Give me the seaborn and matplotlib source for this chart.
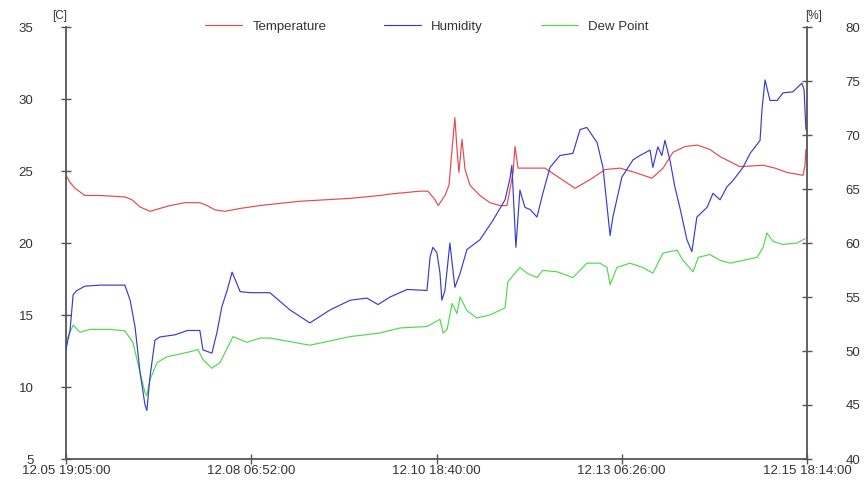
import numpy as np
import pandas as pd
import matplotlib
matplotlib.use("Agg")
import matplotlib.pyplot as plt
import seaborn as sns

# ---------------- data (hours since start) ----------------
tick_labels = ["12.05 19:05:00", "12.08 06:52:00", "12.10 18:40:00",
               "12.13 06:26:00", "12.15 18:14:00"]

temp_hours = [0, 1.3, 2.9, 6.1, 11.0, 19.0, 21.3, 23.9, 27.1, 30.3, 33.6, 38.4,
              43.2, 45.5, 48.1, 51.3, 56.2, 62.6, 75.5, 91.7, 101.3, 104.6, 114.3,
              116.8, 119.1, 120.1, 121.4, 122.3, 123.6, 124.6, 125.5, 126.2, 126.8,
              127.8, 128.8, 130.4, 133.6, 136.8, 140.1, 142.3, 144.3, 144.9, 145.9,
              149.8, 154.6, 159.4, 164.3, 169.1, 174.0, 178.8, 183.6, 189.1, 192.7,
              195.9, 199.8, 203.7, 207.8, 211.1, 217.5, 225.0, 228.8, 232.7, 237.9,
              238.5, 238.8]
temp_values = [24.7, 24.2, 23.8, 23.3, 23.3, 23.2, 23.0, 22.5, 22.2, 22.4, 22.6, 22.8,
               22.8, 22.6, 22.3, 22.2, 22.4, 22.6, 22.9, 23.1, 23.3, 23.4, 23.6,
               23.6, 23.0, 22.6, 23.0, 23.3, 24.0, 26.5, 28.7, 26.5, 24.9,
               27.2, 25.1, 24.0, 23.3, 22.8, 22.6, 22.6, 24.9, 26.7, 25.2,
               25.2, 25.2, 24.5, 23.8, 24.4, 25.1, 25.2, 24.9, 24.5, 25.2,
               26.3, 26.7, 26.8, 26.5, 26.0, 25.3, 25.4, 25.2, 24.9, 24.7,
               25.4, 26.5]

hum_hours = [0, 0.6, 1.3, 2.3, 3.5, 6.1, 11.0, 19.0, 20.7, 22.3, 23.9, 25.5, 26.1,
             27.1, 28.7, 30.3, 35.2, 39.2, 43.2, 44.2, 47.1, 48.7, 50.3, 52.0, 53.6,
             56.2, 59.4, 65.8, 72.3, 78.7, 85.2, 91.7, 97.1, 100.7, 104.6, 110.1,
             116.5, 117.5, 118.4, 119.7, 120.7, 121.3, 122.3, 123.9, 125.5, 127.2,
             129.4, 133.6, 137.8, 141.7, 143.3, 143.9, 145.2, 146.5, 148.1, 149.8,
             152.0, 153.9, 156.2, 159.4, 163.6, 165.9, 168.1, 171.4, 173.3, 175.6,
             176.5, 179.4, 183.0, 185.2, 188.5, 189.4, 191.0, 192.3, 193.3, 194.9,
             196.5, 198.1, 200.4, 202.0, 203.6, 206.9, 208.8, 211.1, 213.3, 215.3,
             218.5, 220.8, 224.0, 224.6, 225.6, 227.2, 229.5, 231.4, 234.6, 237.5,
             238.2, 238.8]
hum_values = [50.1, 51.0, 51.9, 55.2, 55.6, 56.0, 56.1, 56.1, 54.7, 52.2, 48.0, 45.0, 44.5,
              47.6, 51.0, 51.3, 51.5, 51.9, 51.9, 50.1, 49.8, 51.7, 54.1, 55.6, 57.3,
              55.5, 55.4, 55.4, 53.8, 52.6, 53.8, 54.7, 54.9, 54.3, 55.0, 55.7,
              55.6, 58.7, 59.6, 59.1, 57.2, 54.7, 55.6, 60.0, 55.9, 57.2,
              59.4, 60.3, 62.1, 64.0, 66.0, 67.2, 59.6, 64.9, 63.3, 63.1,
              62.4, 64.6, 67.0, 68.1, 68.3, 70.5, 70.7, 69.3, 67.0, 60.7,
              62.4, 66.1, 67.7, 68.1, 68.6, 67.0, 68.9, 68.1, 69.5, 67.7,
              65.2, 63.3, 60.3, 59.2, 62.4, 63.3, 64.6, 64.0, 65.2, 65.8,
              67.0, 68.3, 69.5, 72.3, 75.1, 73.2, 73.2, 73.9, 74.0, 74.8,
              74.2, 70.5]

dew_hours = [0, 0.3, 2.3, 4.5, 7.7, 14.2, 19.0, 21.6, 23.9, 25.5, 26.1, 27.1, 29.4,
             32.6, 39.1, 42.6, 44.2, 47.1, 49.7, 53.9, 58.4, 62.6, 65.8, 78.7, 91.7,
             101.3, 107.8, 116.5, 120.7, 121.7, 123.0, 124.6, 126.2, 127.2, 129.4,
             132.6, 136.8, 141.7, 142.6, 144.9, 146.5, 148.8, 152.0, 153.9, 158.5,
             163.6, 168.1, 172.3, 174.6, 175.6, 177.8, 182.0, 186.2, 189.4, 192.7,
             197.2, 199.1, 202.4, 204.0, 207.8, 211.1, 214.3, 223.0, 225.0, 226.2,
             228.2, 231.4, 235.9, 238.5]
dew_values = [12.9, 13.3, 14.3, 13.8, 14.0, 14.0, 13.9, 13.1, 11.0, 9.6, 9.4, 10.5, 11.7,
              12.1, 12.4, 12.6, 11.9, 11.3, 11.7, 13.5, 13.1, 13.4, 13.4, 12.9, 13.5,
              13.75, 14.1, 14.2, 14.7, 13.75, 14.0, 15.8, 15.1, 16.25, 15.3,
              14.8, 15.0, 15.5, 17.3, 17.9, 18.3, 17.9, 17.6, 18.1, 18.0,
              17.6, 18.6, 18.6, 18.3, 17.1, 18.3, 18.6, 18.3, 17.9, 19.3,
              19.5, 18.8, 18.0, 19.0, 19.2, 18.8, 18.6, 19.0, 19.7, 20.7,
              20.1, 19.9, 20.0, 20.3]

# ---------------- style ----------------
sns.set_style("white")
plt.rcParams["font.family"] = ["Liberation Sans", "DejaVu Sans"]
text_color = "#333333"
axis_color = "#555555"

tick_times = pd.to_datetime(["2000." + t for t in tick_labels], format="%Y.%m.%d %H:%M:%S")
tick_hours = [(t - tick_times[0]).total_seconds() / 3600 for t in tick_times]

temp_df = pd.DataFrame({"hours": temp_hours, "value": temp_values})
hum_df = pd.DataFrame({"hours": hum_hours, "value": hum_values})
dew_df = pd.DataFrame({"hours": dew_hours, "value": dew_values})

fig = plt.figure(figsize=(8.67, 4.83), dpi=100)
ax = fig.add_axes([66 / 867, 1 - 459 / 483, (807 - 66) / 867, (459 - 27) / 483])
ax2 = ax.twinx()

red, blue, green = "#e5484e", "#3a3ad0", "#4cdc4c"
lw = 0.85
sns.lineplot(data=temp_df, x="hours", y="value", ax=ax, color=red, lw=lw,
             sort=False, estimator=None, label="Temperature", legend=False)
sns.lineplot(data=dew_df, x="hours", y="value", ax=ax, color=green, lw=lw,
             sort=False, estimator=None, label="Dew Point", legend=False)
sns.lineplot(data=hum_df, x="hours", y="value", ax=ax2, color=blue, lw=lw,
             sort=False, estimator=None, label="Humidity", legend=False)

ax.set_xlim(tick_hours[0], tick_hours[-1])
ax.set_ylim(5, 35)
ax2.set_ylim(40, 80)
ax.set_yticks([5, 10, 15, 20, 25, 30, 35])
ax2.set_yticks([40, 45, 50, 55, 60, 65, 70, 75, 80])
ax.set_xticks(tick_hours)
ax.set_xticklabels(tick_labels)
ax.set_xlabel("")
ax.set_ylabel("")
ax2.set_ylabel("")

fs = 9.5
for a in (ax, ax2):
    a.spines["top"].set_visible(False)
    for s in ("left", "right", "bottom"):
        a.spines[s].set_color(axis_color)
        a.spines[s].set_linewidth(1.3)
    a.grid(False)
ax.spines["right"].set_visible(False)
ax2.spines["left"].set_visible(False)
ax2.spines["bottom"].set_visible(False)

ax.tick_params(axis="y", direction="inout", length=7, width=1, color=axis_color,
               labelsize=fs, labelcolor=text_color, pad=20, left=True)
ax.tick_params(axis="x", direction="inout", length=7, width=1, color=axis_color,
               labelsize=fs, labelcolor=text_color, pad=1, bottom=True)
ax2.tick_params(axis="y", direction="inout", length=7, width=1, color=axis_color,
                labelsize=fs, labelcolor=text_color, pad=24, right=True)

ax.text(-0.008, 1.012, "[C]", transform=ax.transAxes, ha="center", va="bottom",
        fontsize=fs - 1, color=text_color)
ax2.text(1.009, 1.012, "[%]", transform=ax2.transAxes, ha="center", va="bottom",
         fontsize=fs - 1, color=text_color)

h1, l1 = ax.get_legend_handles_labels()
h2, l2 = ax2.get_legend_handles_labels()
hd = dict(zip(l1 + l2, h1 + h2))
order = ["Temperature", "Humidity", "Dew Point"]
leg = ax2.legend([hd[k] for k in order], order, loc="center",
                 bbox_to_anchor=(0.487, 1.0), ncol=3, frameon=False,
                 fontsize=fs, handlelength=2.8, handletextpad=0.75,
                 columnspacing=4.4, borderaxespad=0)
for t in leg.get_texts():
    t.set_color(text_color)

fig.savefig("out.png", dpi=100)
